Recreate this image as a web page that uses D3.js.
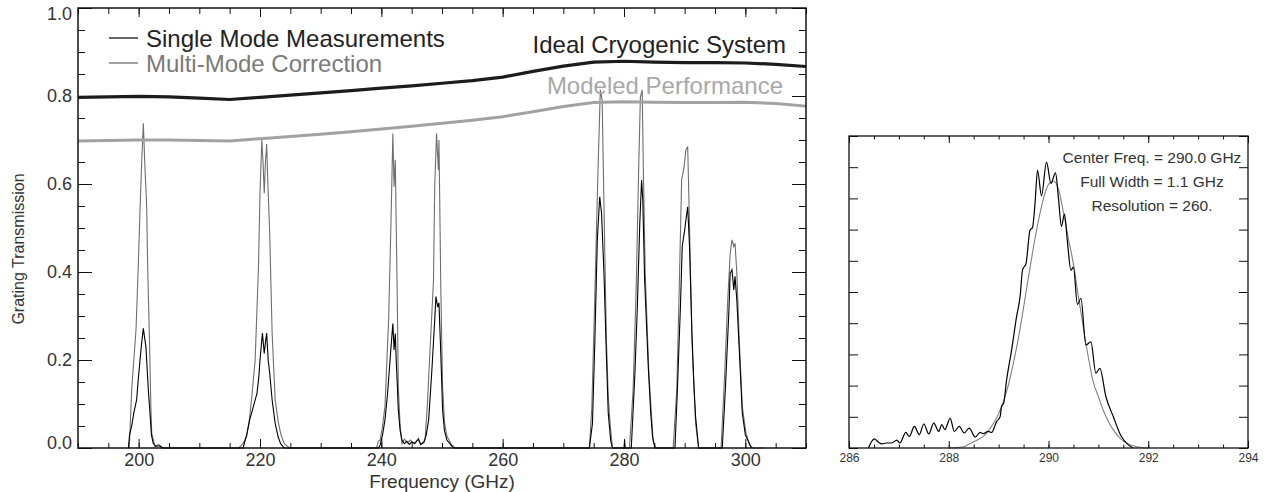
<!DOCTYPE html>
<meta charset="utf-8">
<style>
  body { margin: 0; background: #fff; }
  text { font-family: "Liberation Sans", Arial, Helvetica, sans-serif; }
</style>
<body>
<div id="chart"></div>
<script src="https://d3js.org/d3.v7.min.js"></script>
<script>

// ---- left panel data: grating transmission vs frequency (GHz) ----
var leftXTicks = [200, 220, 240, 260, 280, 300];
var leftYTicks = [0.0, 0.2, 0.4, 0.6, 0.8, 1.0];

var theoryFreq = [190,195,200,205,210,215,220,225,230,235,240,245,250,255,260,265,270,275,280,285,290,295,300,305,310];
var idealCryo  = [0.797,0.798,0.799,0.798,0.795,0.792,0.797,0.802,0.807,0.812,0.818,0.823,0.829,0.835,0.843,0.856,0.868,0.877,0.879,0.877,0.876,0.876,0.875,0.872,0.867];
var modeled    = [0.698,0.699,0.700,0.700,0.699,0.698,0.703,0.708,0.713,0.719,0.725,0.731,0.738,0.745,0.753,0.764,0.776,0.785,0.787,0.786,0.785,0.785,0.786,0.783,0.777];

var singleMode = [
  [198.3,0],[198.5,0.03],[198.85,0.05],[199.2,0.08],[199.67,0.11],[199.9,0.15],[200.22,0.20],[200.5,0.24],[200.77,0.272],[201.04,0.245],[201.2,0.23],[201.32,0.20],[201.6,0.13],[201.87,0.079],[202.1,0.03],[202.4,0.01],[202.8,0.004],[203.5,0.005],[204,0],
  [217.2,0],[217.8,0.03],[218.3,0.064],[218.9,0.094],[219.5,0.124],[219.8,0.16],[220.0,0.20],[220.4,0.261],[220.7,0.215],[220.9,0.24],[221.1,0.261],[221.35,0.2],[221.6,0.17],[222.0,0.109],[222.5,0.056],[223.0,0.025],[223.4,0.01],[224,0],
  [239.5,0],[239.8,0.007],[240.2,0.03],[240.6,0.064],[241.0,0.12],[241.2,0.155],[241.6,0.23],[241.9,0.283],[242.1,0.223],[242.3,0.26],[242.45,0.2],[242.6,0.155],[242.8,0.086],[243.1,0.04],[243.4,0.018],[243.8,0.01],[244.2,0.015],[244.6,0.008],[245.0,0.014],[245.5,0.01],[246.1,0.02],[246.5,0.008],[247.0,0.012],[247.4,0.03],[247.8,0.064],[248.3,0.17],[248.8,0.291],[249.0,0.344],[249.3,0.32],[249.5,0.33],[249.8,0.215],[250.1,0.086],[250.4,0.04],[250.8,0.018],[251.3,0.01],[251.9,0],
  [274.3,0],[274.8,0.056],[275.2,0.245],[275.6,0.473],[276.0,0.571],[276.3,0.533],[276.7,0.397],[277.1,0.209],[277.4,0.08],[277.8,0.018],[278.1,0],
  [280.0,0],[280.1,0.018],[280.2,0],
  [281.2,0],[281.8,0.17],[282.2,0.321],[282.6,0.51],[282.9,0.609],[283.1,0.564],[283.4,0.382],[284.0,0.185],[284.4,0.08],[284.7,0.026],[285.1,0],
  [288.4,0],[288.8,0.132],[289.3,0.321],[289.6,0.458],[290.0,0.495],[290.2,0.518],[290.5,0.548],[290.8,0.458],[291.2,0.26],[291.5,0.15],[291.8,0.071],[292.3,0],
  [296.2,0],[296.7,0.132],[297.3,0.314],[297.5,0.397],[297.8,0.405],[298.1,0.359],[298.3,0.39],[298.6,0.336],[299.0,0.223],[299.5,0.079],[300.0,0.03],[300.4,0.018],[301.0,0]
];

var multiMode = [
  [198.45,0],[198.85,0.132],[199.2,0.2],[199.56,0.268],[199.9,0.4],[200.22,0.541],[200.5,0.65],[200.77,0.738],[201.0,0.65],[201.32,0.548],[201.5,0.4],[201.76,0.26],[202.0,0.1],[202.15,0.033],[202.7,0.003],[203.3,0.008],[203.8,0],
  [216.5,0],[217.2,0.01],[217.8,0.026],[218.2,0.06],[218.6,0.109],[219.2,0.2],[219.75,0.412],[220.0,0.58],[220.3,0.70],[220.5,0.65],[220.7,0.579],[220.9,0.65],[221.1,0.691],[221.3,0.6],[221.6,0.488],[222.0,0.261],[222.5,0.109],[223.0,0.06],[223.4,0.033],[224.0,0.01],[224.9,0],
  [239.2,0],[239.5,0.015],[239.8,0.018],[240.2,0.05],[240.6,0.094],[241.2,0.291],[241.6,0.518],[241.9,0.715],[242.1,0.594],[242.3,0.655],[242.6,0.367],[242.8,0.139],[243.1,0.05],[243.4,0.01],[243.8,0.02],[244.3,0.012],[244.8,0.018],[245.3,0.01],[245.8,0.015],[246.1,0.022],[246.5,0.008],[247.2,0.018],[247.6,0.1],[248.0,0.215],[248.6,0.382],[248.8,0.594],[249.1,0.715],[249.4,0.632],[249.5,0.70],[249.8,0.367],[250.1,0.139],[250.4,0.06],[250.8,0.027],[251.6,0.007],[252.2,0],
  [274.3,0],[274.7,0.094],[275.2,0.352],[275.7,0.624],[276.1,0.814],[276.4,0.79],[276.7,0.548],[277.1,0.245],[277.4,0.12],[277.7,0.056],[278.1,0],
  [280.9,0],[281.5,0.132],[282.0,0.359],[282.4,0.624],[282.7,0.798],[283.0,0.814],[283.2,0.624],[283.5,0.397],[284.1,0.17],[284.8,0.018],[285.2,0],
  [288.1,0],[288.7,0.132],[289.1,0.359],[289.5,0.609],[289.9,0.639],[290.2,0.677],[290.5,0.685],[290.8,0.503],[291.2,0.245],[291.8,0.056],[292.3,0],
  [296.0,0],[296.6,0.17],[297.1,0.336],[297.5,0.442],[297.8,0.473],[298.1,0.458],[298.3,0.465],[298.6,0.397],[299.0,0.245],[299.5,0.094],[300.1,0.034],[300.7,0.007],[301.2,0],[303.0,0]
];

// ---- right panel data: single channel at 290 GHz ----
var rightXTicks = [286, 288, 290, 292, 294];

var channelMeas = [
  [286.39,0],[286.45,0.02],[286.51,0.029],[286.58,0.02],[286.66,0.013],[286.75,0.016],[286.85,0.016],[286.96,0.025],[287.02,0.016],[287.14,0.05],[287.21,0.037],[287.31,0.069],[287.41,0.043],[287.50,0.077],[287.60,0.045],[287.70,0.08],[287.80,0.053],[287.86,0.075],[287.92,0.059],[288.03,0.095],[288.11,0.053],[288.21,0.069],[288.31,0.048],[288.41,0.064],[288.53,0.035],[288.63,0.05],[288.69,0.046],[288.79,0.053],[288.86,0.05],[288.96,0.085],[289.03,0.1],[289.06,0.134],
  [289.10,0.143],[289.16,0.218],[289.26,0.314],[289.36,0.421],[289.43,0.485],[289.48,0.571],[289.55,0.592],[289.63,0.699],[289.68,0.707],[289.73,0.784],[289.78,0.89],[289.86,0.808],[289.96,0.916],[290.05,0.848],[290.14,0.882],[290.2,0.80],[290.26,0.71],[290.32,0.75],[290.38,0.66],[290.45,0.57],[290.5,0.58],[290.58,0.46],[290.65,0.48],[290.75,0.33],[290.85,0.34],[290.95,0.24],[291.03,0.255],[291.15,0.165],[291.3,0.10],[291.45,0.04],[291.6,0.01],[291.7,0]
];

var fitFreq = [288.0,288.1,288.2,288.3,288.4,288.5,288.6,288.7,288.8,288.9,289.0,289.1,289.2,289.3,289.4,289.5,289.6,289.7,289.8,289.9,290.0,290.1,290.2,290.3,290.4,290.5,290.6,290.7,290.8,290.9,291.0,291.1,291.2,291.3,291.4,291.5,291.6,291.7,291.8,291.9,292.0];
var fitValue = [0.000,0.001,0.002,0.004,0.012,0.020,0.028,0.038,0.055,0.08,0.11,0.15,0.205,0.275,0.355,0.45,0.55,0.645,0.73,0.80,0.845,0.855,0.83,0.755,0.67,0.59,0.485,0.385,0.29,0.21,0.165,0.12,0.085,0.058,0.037,0.022,0.013,0.007,0.003,0.001,0.0];

var annotations = ["Center Freq. = 290.0 GHz", "Full Width = 1.1 GHz", "Resolution = 260."];

// ---- drawing ----
var W = 1268, H = 492;
var svg = d3.select("#chart").append("svg")
  .attr("width", W).attr("height", H);

// left panel
var L = {left: 78, right: 806, top: 8, bottom: 448};
var x = d3.scaleLinear().domain([190, 310]).range([L.left, L.right]);
var y = d3.scaleLinear().domain([0, 1]).range([L.bottom, L.top]);

function styleAxis(g) {
  g.select(".domain").remove();
  g.selectAll(".tick line").attr("stroke", "#111").attr("stroke-width", 1);
  g.selectAll(".tick text").attr("fill", "#333");
}

// minor ticks
svg.append("g").attr("transform", "translate(0," + L.bottom + ")")
  .call(d3.axisBottom(x).tickValues(d3.range(190, 311, 5)).tickSize(-5).tickFormat(""))
  .call(styleAxis);
svg.append("g").attr("transform", "translate(0," + L.top + ")")
  .call(d3.axisTop(x).tickValues(d3.range(190, 311, 5)).tickSize(-6).tickFormat(""))
  .call(styleAxis);
svg.append("g").attr("transform", "translate(" + L.left + ",0)")
  .call(d3.axisLeft(y).tickValues(d3.range(0, 1.001, 0.05)).tickSize(-7).tickFormat(""))
  .call(styleAxis);
svg.append("g").attr("transform", "translate(" + L.right + ",0)")
  .call(d3.axisRight(y).tickValues(d3.range(0, 1.001, 0.05)).tickSize(-7).tickFormat(""))
  .call(styleAxis);

// major ticks + labels
svg.append("g").attr("transform", "translate(0," + L.bottom + ")")
  .call(d3.axisBottom(x).tickValues(leftXTicks).tickSize(-9).tickPadding(5.5).tickFormat(d3.format("d")))
  .call(styleAxis)
  .call(function(g) { g.selectAll("text").attr("font-size", 18).attr("font-family", "Liberation Sans, Arial, sans-serif"); });
svg.append("g").attr("transform", "translate(0," + L.top + ")")
  .call(d3.axisTop(x).tickValues(leftXTicks).tickSize(-9).tickFormat(""))
  .call(styleAxis);
svg.append("g").attr("transform", "translate(" + L.left + ",0)")
  .call(d3.axisLeft(y).tickValues(leftYTicks).tickSize(-14).tickPadding(6).tickFormat(d3.format(".1f")))
  .call(styleAxis)
  .call(function(g) {
    g.selectAll("text").attr("font-size", 18).attr("font-family", "Liberation Sans, Arial, sans-serif");
    // end labels sit inside the frame, as in the original plot
    g.selectAll(".tick").filter(function(d) { return d === 1.0; }).select("text").attr("dy", "0.62em");
    g.selectAll(".tick").filter(function(d) { return d === 0.0; }).select("text").attr("dy", "0.02em");
  });
svg.append("g").attr("transform", "translate(" + L.right + ",0)")
  .call(d3.axisRight(y).tickValues(leftYTicks).tickSize(-14).tickFormat(""))
  .call(styleAxis);

var line = d3.line().x(function(d) { return x(d[0]); }).y(function(d) { return y(d[1]); });

svg.append("path").datum(multiMode).attr("d", line)
  .attr("fill", "none").attr("stroke", "#6e6e6e").attr("stroke-width", 1.1);
svg.append("path").datum(singleMode).attr("d", line)
  .attr("fill", "none").attr("stroke", "#000").attr("stroke-width", 1.1);

svg.append("path").datum(d3.zip(theoryFreq, modeled)).attr("d", line)
  .attr("fill", "none").attr("stroke", "#a2a2a2").attr("stroke-width", 3);
svg.append("path").datum(d3.zip(theoryFreq, idealCryo)).attr("d", line)
  .attr("fill", "none").attr("stroke", "#1c1c1c").attr("stroke-width", 3.2);

svg.append("rect")
  .attr("x", L.left).attr("y", L.top)
  .attr("width", L.right - L.left).attr("height", L.bottom - L.top)
  .attr("fill", "none").attr("stroke", "#111").attr("stroke-width", 1.5);

// legend
var legend = [
  {label: "Single Mode Measurements", color: "#111", text: "#222", y: 38},
  {label: "Multi-Mode Correction", color: "#707070", text: "#7a7a7a", y: 63}
];
legend.forEach(function(d) {
  svg.append("line").attr("x1", 109).attr("x2", 138).attr("y1", d.y).attr("y2", d.y)
    .attr("stroke", d.color).attr("stroke-width", 1.3);
  svg.append("text").attr("x", 146).attr("y", d.y + 9)
    .attr("font-size", 24).attr("fill", d.text).text(d.label);
});
svg.append("text").attr("x", 786).attr("y", 53).attr("text-anchor", "end")
  .attr("font-size", 24).attr("fill", "#222").text("Ideal Cryogenic System");
svg.append("text").attr("x", 783).attr("y", 94).attr("text-anchor", "end")
  .attr("font-size", 24).attr("fill", "#a8a8a8").text("Modeled Performance");

svg.append("text").attr("x", (L.left + L.right) / 2).attr("y", 487.5)
  .attr("text-anchor", "middle").attr("font-size", 19).attr("fill", "#333")
  .text("Frequency (GHz)");
svg.append("text").attr("transform", "translate(24,249) rotate(-90)")
  .attr("text-anchor", "middle").attr("font-size", 16).attr("fill", "#333")
  .text("Grating Transmission");

// right panel
var R = {left: 849, right: 1248, top: 136, bottom: 448};
var x2 = d3.scaleLinear().domain([286, 294]).range([R.left, R.right]);
var y2 = d3.scaleLinear().domain([0, 1]).range([R.bottom, R.top]);

svg.append("g").attr("transform", "translate(0," + R.bottom + ")")
  .call(d3.axisBottom(x2).tickValues(d3.range(286, 294.01, 0.5)).tickSize(-3.5).tickFormat(""))
  .call(styleAxis);
svg.append("g").attr("transform", "translate(0," + R.top + ")")
  .call(d3.axisTop(x2).tickValues(d3.range(286, 294.01, 0.5)).tickSize(-3.5).tickFormat(""))
  .call(styleAxis);
svg.append("g").attr("transform", "translate(0," + R.bottom + ")")
  .call(d3.axisBottom(x2).tickValues(rightXTicks).tickSize(-7).tickPadding(5.5).tickFormat(d3.format("d")))
  .call(styleAxis)
  .call(function(g) { g.selectAll("text").attr("font-size", 12).attr("font-family", "Liberation Sans, Arial, sans-serif"); });
svg.append("g").attr("transform", "translate(0," + R.top + ")")
  .call(d3.axisTop(x2).tickValues(rightXTicks).tickSize(-7).tickFormat(""))
  .call(styleAxis);
svg.append("g").attr("transform", "translate(" + R.left + ",0)")
  .call(d3.axisLeft(y2).tickValues(d3.range(0, 1.001, 0.1)).tickSize(-9).tickFormat(""))
  .call(styleAxis);
svg.append("g").attr("transform", "translate(" + R.right + ",0)")
  .call(d3.axisRight(y2).tickValues(d3.range(0, 1.001, 0.1)).tickSize(-9).tickFormat(""))
  .call(styleAxis);

var line2 = d3.line().x(function(d) { return x2(d[0]); }).y(function(d) { return y2(d[1]); })
  .curve(d3.curveMonotoneX);

svg.append("path").datum(d3.zip(fitFreq, fitValue)).attr("d", line2)
  .attr("fill", "none").attr("stroke", "#808080").attr("stroke-width", 1.1);
svg.append("path").datum(channelMeas).attr("d", line2)
  .attr("fill", "none").attr("stroke", "#000").attr("stroke-width", 1.2);

svg.append("rect")
  .attr("x", R.left).attr("y", R.top)
  .attr("width", R.right - R.left).attr("height", R.bottom - R.top)
  .attr("fill", "none").attr("stroke", "#111").attr("stroke-width", 1.3);

svg.selectAll(".annot").data(annotations).enter().append("text")
  .attr("class", "annot")
  .attr("x", 1152)
  .attr("y", function(d, i) { return 163 + i * 24; })
  .attr("text-anchor", "middle").attr("font-size", 15.5).attr("fill", "#333")
  .text(function(d) { return d; });

</script>
</body>
